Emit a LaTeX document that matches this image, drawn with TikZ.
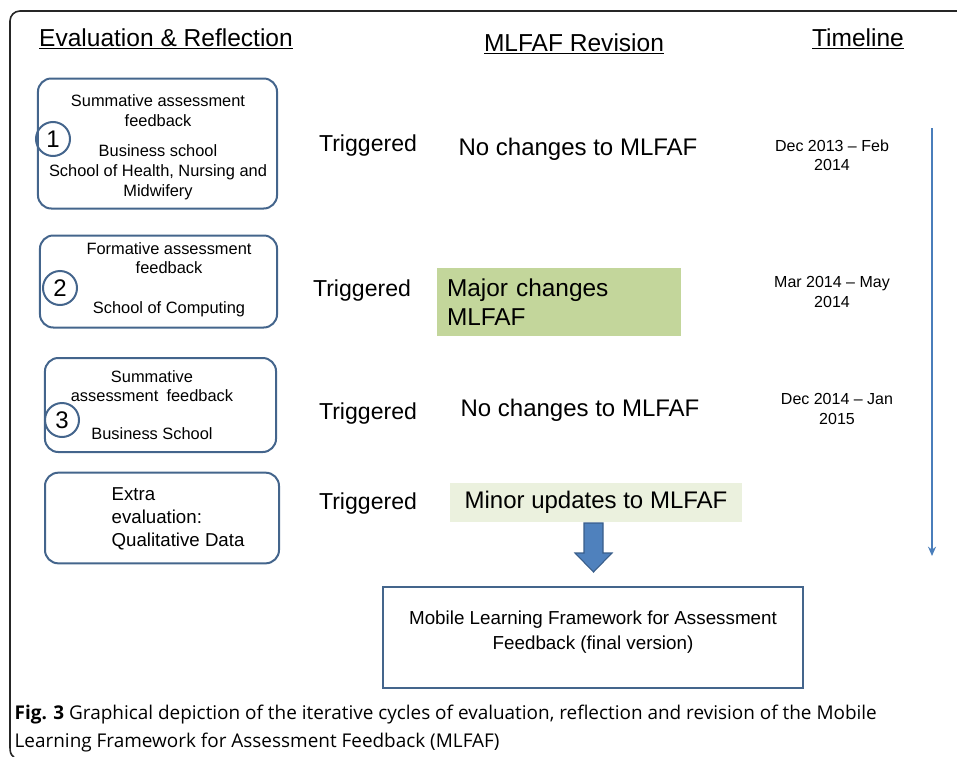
\documentclass[tikz,border=0pt]{standalone}
\usepackage{fontspec}
\setmainfont{Liberation Sans}
\newfontfamily\capfont{Open Sans}
\usetikzlibrary{arrows.meta}

\definecolor{boxline}{HTML}{44658C}
\definecolor{tlblue}{HTML}{4A7EBB}
\definecolor{arrowfill}{HTML}{4F81BD}
\definecolor{arrowline}{HTML}{385D8A}
\definecolor{majorfill}{HTML}{C3D69B}
\definecolor{minorfill}{HTML}{EBF1DE}

\tikzset{every picture/.style={line width=1pt}}
\tikzset{
  evalbox/.style 2 args={draw=boxline, line width=1.5pt, rounded corners=10pt,
                minimum width=#1, minimum height=#2, inner sep=0pt},
  numcircle/.style={circle, draw=boxline, line width=1.5pt, minimum size=25.5pt,
                inner sep=0pt, font=\fontsize{18}{18}\selectfont},
  boxtext/.style={align=center, inner sep=0pt, font=\fontsize{12.3}{15}\selectfont},
  header/.style={inner sep=0pt, font=\fontsize{18.4}{22}\selectfont},
  trig/.style={inner sep=0pt, font=\fontsize{17.3}{20}\selectfont},
  revision/.style={inner sep=0pt, font=\fontsize{18}{22}\selectfont},
  datetext/.style={align=center, inner sep=0pt, font=\fontsize{12}{14.5}\selectfont},
}

\begin{document}
\begin{tikzpicture}[x=0.75pt, y=-0.75pt]
  \useasboundingbox (0,0) rectangle (957,757);
  % outer frame
  \draw[line width=1.2pt, black!85] (957,11) -- (20,11) to[out=180,in=90] (10,21)
        -- (10,747) to[out=-90,in=150] (14,757);

  % column headers
  \node[header] (hdeval) at (166,39) {\underline{Evaluation \& Reflection}};
  \node[header] (hdrev) at (574,44) {\underline{MLFAF Revision}};
  \node[header] (hdtime) at (858,39) {\underline{Timeline}};

  % evaluation boxes
  \node[evalbox={179.3pt}{97.5pt}] (eval1) at (157.5,143.5) {};
  \node[evalbox={177.8pt}{69pt}] (eval2) at (158.5,281.5) {};
  \node[evalbox={173.3pt}{70.5pt}] (eval3) at (160.5,405) {};
  \node[evalbox={175.5pt}{68pt}] (eval4) at (162,518) {};

  \node[boxtext] (txt1) at (158,147) {Summative assessment\\feedback\\[7.5pt]
        Business school\\School of Health, Nursing and\\Midwifery};
  \node[boxtext, font=\fontsize{12.3}{14.3}\selectfont] (txt2) at (169,280)
        {Formative assessment\\feedback\\[15.5pt]School of Computing};
  \node[boxtext, font=\fontsize{12.3}{14.8}\selectfont] (txt3) at (152,405)
        {Summative\\assessment\enspace feedback\\[13.5pt]Business School};
  \node[boxtext, align=left, anchor=west, font=\fontsize{14}{17}\selectfont] (txt4)
        at (111,519) {Extra\\evaluation:\\Qualitative Data};

  % numbered circles
  \foreach \x/\y/\n in {53/139/1, 60/288/2, 62/420/3}
    \node[numcircle] (num\n) at (\x,\y) {\n};

  % triggered labels
  \foreach \x/\y [count=\i] in {368/146, 362/291, 368/414, 368/504}
    \node[trig] (trig\i) at (\x,\y) {Triggered};

  % revisions
  \node[revision] (rev1) at (578,149) {No changes to MLFAF};
  \node[revision, fill=majorfill, minimum width=183pt, minimum height=51pt,
        text width=168pt, align=left, inner xsep=7.5pt,
        font=\fontsize{18.3}{22}\selectfont] (rev2) at (559,302) {Major changes\\MLFAF};
  \node[revision] (rev3) at (580,410) {No changes to MLFAF};
  \node[revision, fill=minorfill, minimum width=219pt, minimum height=29pt]
        (rev4) at (596,502.5) {Minor updates to MLFAF};

  % timeline
  \node[datetext] (date1) at (832,155) {Dec 2013 -- Feb\\2014};
  \node[datetext] (date2) at (832,292) {Mar 2014 -- May\\2014};
  \node[datetext] (date3) at (837,409) {Dec 2014 -- Jan\\2015};
  \coordinate (tltop) at (932,128);
  \coordinate (tlbot) at (932,556);
  \draw[tlblue, line width=2pt, -{Stealth[length=7pt, width=6pt]}] (tltop) -- (tlbot);

  % final framework
  \node[draw=boxline, line width=1.5pt, minimum width=315pt, minimum height=75.8pt]
        (final) at (593,637.5) {};
  \node[boxtext, font=\fontsize{14.1}{18.5}\selectfont] (finaltxt) at (593,632)
        {Mobile Learning Framework for Assessment\\Feedback (final version)};

  % block arrow
  \draw[fill=arrowfill, draw=arrowline, line width=0.8pt]
        (584,523) -- (603,523) -- (603,553) -- (612,553) -- (593.5,572)
        -- (575,553) -- (584,553) -- cycle;

  % caption
  \node[anchor=base west, align=left, inner sep=0pt,
        font=\capfont\fontsize{14.2}{21}\selectfont] (caption) at (14,747)
        {\textbf{Fig. 3} Graphical depiction of the iterative cycles of evaluation, reflection and revision of the Mobile\\
         Learning Framework for Assessment Feedback (MLFAF)};
\end{tikzpicture}
\end{document}
